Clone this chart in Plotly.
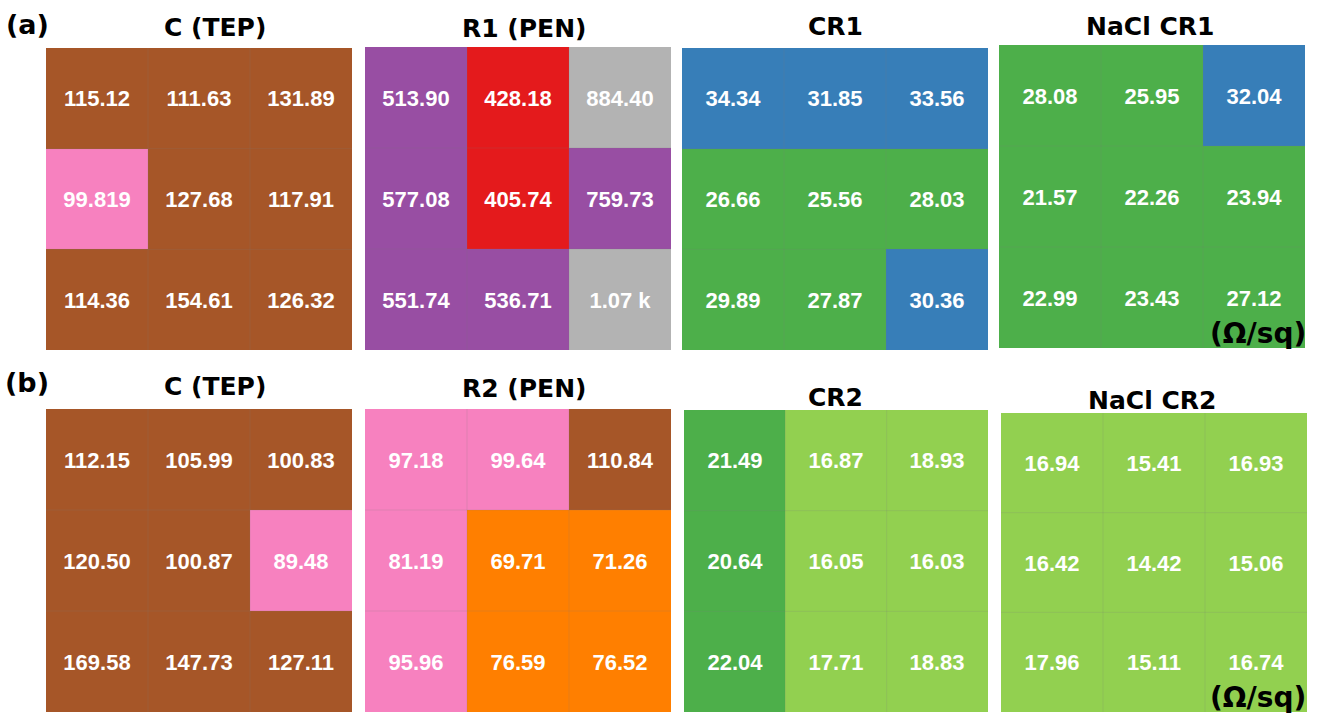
import plotly.graph_objects as go

# Sheet resistance maps (Ω/sq), 3x3 measurement points per sample
titles_a = ["C (TEP)", "R1 (PEN)", "CR1", "NaCl CR1"]
titles_b = ["C (TEP)", "R2 (PEN)", "CR2", "NaCl CR2"]

c_tep_a = [[115.12, 111.63, 131.89],
           [99.819, 127.68, 117.91],
           [114.36, 154.61, 126.32]]
r1_pen = [[513.90, 428.18, 884.40],
          [577.08, 405.74, 759.73],
          [551.74, 536.71, 1070.0]]
cr1 = [[34.34, 31.85, 33.56],
       [26.66, 25.56, 28.03],
       [29.89, 27.87, 30.36]]
nacl_cr1 = [[28.08, 25.95, 32.04],
            [21.57, 22.26, 23.94],
            [22.99, 23.43, 27.12]]

c_tep_b = [[112.15, 105.99, 100.83],
           [120.50, 100.87, 89.48],
           [169.58, 147.73, 127.11]]
r2_pen = [[97.18, 99.64, 110.84],
          [81.19, 69.71, 71.26],
          [95.96, 76.59, 76.52]]
cr2 = [[21.49, 16.87, 18.93],
       [20.64, 16.05, 16.03],
       [22.04, 17.71, 18.83]]
nacl_cr2 = [[16.94, 15.41, 16.93],
            [16.42, 14.42, 15.06],
            [17.96, 15.11, 16.74]]

# Resistance classes: upper bound of each band and its colour
band_edges = [20, 30, 60, 80, 100, 400, 500, 800, 1200]
band_colors = ["#92D050", "#4DAF4A", "#377EB8", "#FF7F00", "#F781BF",
               "#A65628", "#E41A1C", "#984EA3", "#B3B3B3"]

W, H = 1318, 714
# panel boxes in pixels: (left, top, right, bottom)
boxes = [(46, 48, 352, 350), (365, 47, 671, 350), (682, 48, 988, 350), (999, 45, 1305, 348),
         (46, 409, 352, 712), (365, 409, 671, 712), (684, 410, 988, 712), (1001, 413, 1307, 712)]
title_pos = [(215, 28), (524, 29), (835, 27), (1150, 27),
             (215, 386), (524, 389), (835, 397), (1152, 400)]

zmax = band_edges[-1]
scale = []
lo = 0.0
for edge, col in zip(band_edges, band_colors):
    scale.append([lo / zmax, col])
    scale.append([edge / zmax, col])
    lo = edge


def fmt(v):
    if v >= 1000:
        return f"{v / 1000:.2f} k"
    if round(v, 2) != v:
        return f"{v:.3f}"
    return f"{v:.2f}"


panels = [c_tep_a, r1_pen, cr1, nacl_cr1, c_tep_b, r2_pen, cr2, nacl_cr2]
titles = titles_a + titles_b

fig = go.Figure()
shapes = []
annotations = []
layout_axes = {}
for i, (vals, box) in enumerate(zip(panels, boxes), start=1):
    l, t, r, b = box
    sfx = "" if i == 1 else str(i)
    fig.add_trace(go.Heatmap(
        z=vals, x=[0, 1, 2], y=[0, 1, 2],
        text=[[fmt(v) for v in row] for row in vals],
        texttemplate="<b>%{text}</b>",
        textfont=dict(family="Liberation Sans", size=22, color="white", weight="bold"),
        colorscale=scale, zmin=0, zmax=zmax, showscale=False,
        xaxis="x" + sfx, yaxis="y" + sfx, hoverinfo="skip",
    ))
    layout_axes["xaxis" + sfx] = dict(domain=[l / W, r / W], range=[-0.5, 2.5],
                                      visible=False, anchor="y" + sfx)
    layout_axes["yaxis" + sfx] = dict(domain=[1 - b / H, 1 - t / H], range=[2.5, -0.5],
                                      visible=False, anchor="x" + sfx)
    # faint cell divisions
    for k in (0.5, 1.5):
        shapes.append(dict(type="line", xref="x" + sfx, yref="y" + sfx,
                           x0=k, x1=k, y0=-0.5, y1=2.5,
                           line=dict(color="rgba(120,120,120,0.18)", width=1)))
        shapes.append(dict(type="line", xref="x" + sfx, yref="y" + sfx,
                           x0=-0.5, x1=2.5, y0=k, y1=k,
                           line=dict(color="rgba(120,120,120,0.18)", width=1)))

for (x, y), txt in zip(title_pos, titles):
    annotations.append(dict(text=f"<b>{txt}</b>", x=x / W, y=1 - y / H, xref="paper", yref="paper",
                            showarrow=False, xanchor="center", yanchor="middle",
                            font=dict(family="DejaVu Sans", size=25, color="black")))

for txt, (x, y) in [("(a)", (27, 25)), ("(b)", (27, 382))]:
    annotations.append(dict(text=f"<b>{txt}</b>", x=x / W, y=1 - y / H, xref="paper", yref="paper",
                            showarrow=False, xanchor="center", yanchor="middle",
                            font=dict(family="DejaVu Sans", size=27, color="black")))

for x, y in [(1258, 333), (1258, 697)]:
    annotations.append(dict(text="<b>(Ω/sq)</b>", x=x / W, y=1 - y / H, xref="paper", yref="paper",
                            showarrow=False, xanchor="center", yanchor="middle",
                            font=dict(family="DejaVu Sans", size=28, color="black")))

fig.update_layout(width=W, height=H, margin=dict(l=0, r=0, t=0, b=0),
                  paper_bgcolor="white", plot_bgcolor="white",
                  shapes=shapes, annotations=annotations, **layout_axes)

fig.write_html("out.html")
